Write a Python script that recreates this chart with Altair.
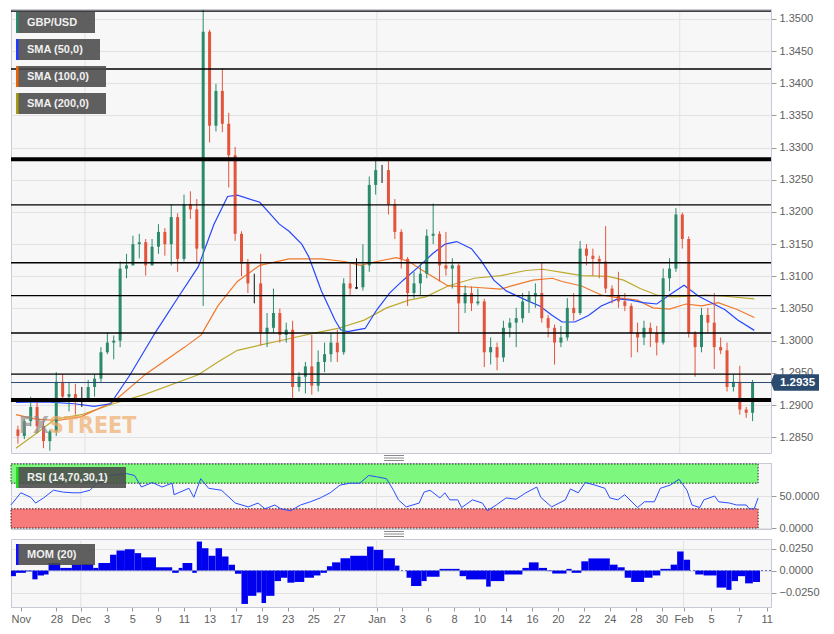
import altair as alt
import pandas as pd

# ---------------- data ----------------
first_open = 1.2862
high = [1.2868, 1.2878, 1.2913, 1.2905, 1.2875, 1.2862, 1.2951, 1.2948, 1.2936, 1.2933,
        1.2928, 1.2939, 1.2948, 1.2990, 1.3012, 1.3008, 1.3123, 1.3135, 1.3163, 1.3166,
        1.3158, 1.3158, 1.3181, 1.3175, 1.3212, 1.3198, 1.3227, 1.3232, 1.3220, 1.3514,
        1.3483, 1.3399, 1.3423, 1.3354, 1.3301, 1.3170, 1.3127, 1.3104, 1.3135, 1.3043,
        1.3081, 1.3050, 1.3028, 1.3031, 1.2951, 1.2967, 1.3009, 1.2985, 1.2997, 1.3012,
        1.3017, 1.3097, 1.3120, 1.3128, 1.3150, 1.3255, 1.3285, 1.3273, 1.3281, 1.3220,
        1.3173, 1.3130, 1.3107, 1.3120, 1.3173, 1.3213, 1.3170, 1.3169, 1.3128, 1.3120,
        1.3086, 1.3084, 1.3081, 1.3065, 1.3005, 1.2997, 1.3031, 1.3035, 1.3051, 1.3074,
        1.3077, 1.3089, 1.3121, 1.3040, 1.3025, 1.3023, 1.3066, 1.3074, 1.3155, 1.3150,
        1.3143, 1.3132, 1.3178, 1.3086, 1.3107, 1.3074, 1.3058, 1.3028, 1.3031, 1.3028,
        1.3023, 1.3112, 1.3128, 1.3206, 1.3199, 1.3162, 1.3015, 1.3051, 1.3051, 1.3074,
        1.3005, 1.2997, 1.2948, 1.2961, 1.2897, 1.2939]
low = [1.2840, 1.2847, 1.2867, 1.2856, 1.2833, 1.2829, 1.2852, 1.2905, 1.2890, 1.2885,
       1.2897, 1.2905, 1.2913, 1.2936, 1.2979, 1.2971, 1.2990, 1.3097, 1.3117, 1.3128,
       1.3101, 1.3117, 1.3135, 1.3132, 1.3117, 1.3107, 1.3123, 1.3189, 1.3120, 1.3054,
       1.3308, 1.3325, 1.3324, 1.3238, 1.3155, 1.3100, 1.3074, 1.3058, 1.2993, 1.2990,
       1.3012, 1.2997, 1.2997, 1.2905, 1.2921, 1.2918, 1.2916, 1.2921, 1.2951, 1.2967,
       1.2967, 1.2978, 1.3071, 1.3080, 1.3078, 1.3107, 1.3227, 1.3245, 1.3196, 1.3158,
       1.3112, 1.3054, 1.3066, 1.3071, 1.3097, 1.3150, 1.3092, 1.3101, 1.3081, 1.3012,
       1.3043, 1.3046, 1.3055, 1.2959, 1.2963, 1.2954, 1.2967, 1.3005, 1.2990, 1.3028,
       1.3043, 1.3051, 1.3028, 1.3005, 1.2963, 1.2990, 1.3000, 1.3031, 1.3040, 1.3117,
       1.3101, 1.3097, 1.3074, 1.3058, 1.3051, 1.3046, 1.2974, 1.2982, 1.2993, 1.2990,
       1.2977, 1.2994, 1.3077, 1.3107, 1.3143, 1.3005, 1.2944, 1.2982, 1.3012, 1.2956,
       1.2979, 1.2921, 1.2921, 1.2885, 1.2880, 1.2875]
close = [1.2852, 1.2875, 1.2897, 1.2867, 1.2844, 1.2859, 1.2936, 1.2913, 1.2917, 1.2908,
         1.2910, 1.2928, 1.2941, 1.2982, 1.2997, 1.3000, 1.3112, 1.3117, 1.3150, 1.3153,
         1.3117, 1.3146, 1.3169, 1.3150, 1.3192, 1.3127, 1.3212, 1.3204, 1.3143, 1.3480,
         1.3334, 1.3388, 1.3337, 1.3288, 1.3166, 1.3120, 1.3089, 1.3089, 1.3012, 1.3020,
         1.3043, 1.3009, 1.3017, 1.2928, 1.2944, 1.2960, 1.2930, 1.2967, 1.2979, 1.2997,
         1.2982, 1.3089, 1.3081, 1.3083, 1.3117, 1.3242, 1.3265, 1.3265, 1.3212, 1.3169,
         1.3127, 1.3074, 1.3089, 1.3104, 1.3163, 1.3166, 1.3117, 1.3112, 1.3117, 1.3058,
         1.3074, 1.3058, 1.3061, 1.2982, 1.2990, 1.2974, 1.3020, 1.3028, 1.3035, 1.3061,
         1.3069, 1.3074, 1.3035, 1.3020, 1.2997, 1.3005, 1.3051, 1.3043, 1.3143, 1.3132,
         1.3127, 1.3123, 1.3081, 1.3071, 1.3061, 1.3054, 1.3012, 1.3005, 1.3020, 1.3012,
         1.2997, 1.3097, 1.3112, 1.3196, 1.3158, 1.3012, 1.2990, 1.3040, 1.3028, 1.2990,
         1.2985, 1.2928, 1.2936, 1.2893, 1.2888, 1.2935]

sma50_t = [-0.31, 4.27, 8.85, 11.91, 14.5, 17.56, 21.53, 25.19, 28.24, 30.69, 32.82, 34.35,
           37.86, 40.92, 42.44, 44.43, 45.5, 47.48, 49.62, 50.53, 51.6, 54.35, 56.18, 58.17,
           60.31, 62.75, 64.89, 66.87, 68.7, 70.99, 72.52, 74.5, 76.49, 79.54, 81.68, 83.66,
           85.19, 87.18, 89.31, 91.3, 93.89, 95.88, 97.86, 100.0, 101.98, 104.27, 106.56,
           108.55, 110.69, 112.67, 115.27]
sma50_v = [1.2904, 1.2905, 1.2902, 1.2898, 1.2902, 1.2947, 1.3013, 1.3069, 1.3115, 1.3181,
           1.3224, 1.3226, 1.3215, 1.3181, 1.3170, 1.3150, 1.3131, 1.3078, 1.3032, 1.3017,
           1.3014, 1.3019, 1.3048, 1.3074, 1.3094, 1.3115, 1.3135, 1.3150, 1.3154, 1.3143,
           1.3124, 1.3094, 1.3077, 1.3063, 1.3054, 1.3039, 1.3029, 1.3029, 1.3039, 1.3054,
           1.3065, 1.3063, 1.3059, 1.3057, 1.3071, 1.3086, 1.3069, 1.3059, 1.3048, 1.3032,
           1.3016]
sma100_t = [-0.31, 2.75, 6.26, 9.92, 14.96, 20.0, 26.11, 28.7, 31.3, 34.35, 37.86, 42.44,
            47.48, 51.15, 53.59, 56.18, 59.24, 61.22, 63.36, 65.34, 67.33, 71.45, 75.57,
            77.56, 80.61, 83.66, 85.19, 88.24, 91.3, 94.35, 96.95, 99.39, 101.98, 104.58,
            107.02, 109.62, 112.67, 115.27]
sma100_v = [1.2885, 1.2878, 1.2876, 1.2882, 1.2905, 1.2948, 1.2990, 1.3009, 1.3054, 1.3092,
            1.3117, 1.3127, 1.3127, 1.3123, 1.3117, 1.3123, 1.3129, 1.3123, 1.3109, 1.3097,
            1.3085, 1.3083, 1.3080, 1.3086, 1.3094, 1.3097, 1.3092, 1.3085, 1.3071, 1.3066,
            1.3063, 1.3051, 1.3049, 1.3057, 1.3054, 1.3059, 1.3048, 1.3036]
sma200_t = [-0.31, 2.75, 5.8, 9.92, 14.96, 20.0, 28.24, 31.3, 34.35, 37.86, 42.44, 45.95,
            50.08, 54.2, 57.71, 61.22, 63.82, 67.33, 71.45, 75.57, 79.54, 82.14, 85.19,
            88.24, 92.37, 94.81, 97.4, 100.0, 102.44, 105.04, 107.63, 110.69, 115.27]
sma200_v = [1.2833, 1.2855, 1.2878, 1.2885, 1.2902, 1.2917, 1.2947, 1.2967, 1.2985, 1.2993,
            1.3003, 1.3011, 1.3019, 1.3032, 1.3051, 1.3063, 1.3068, 1.3085, 1.3097, 1.3101,
            1.3109, 1.3111, 1.3106, 1.3101, 1.3100, 1.3094, 1.3081, 1.3071, 1.3068, 1.3069,
            1.3071, 1.3069, 1.3065]

levels_thin = [1.3512, 1.3422, 1.3211, 1.3121, 1.3070, 1.3012, 1.2948]
levels_thick = [1.3282, 1.2908]

rsi_t = [-0.31, 1.22, 2.75, 3.51, 4.73, 6.26, 7.79, 9.31, 10.38, 11.91,
         12.98, 14.96, 17.56, 18.78, 19.85, 21.53, 23.05, 24.58, 24.89, 27.18,
         27.94, 29.01, 30.23, 32.21, 34.35, 36.34, 37.86, 38.93, 40.46, 41.37,
         42.9, 44.43, 45.95, 47.48, 49.01, 50.53, 52.06, 53.59, 54.96, 56.18,
         57.71, 58.78, 59.54, 60.76, 62.75, 63.51, 64.43, 65.95, 66.72, 67.48,
         68.7, 69.31, 70.99, 72.52, 73.28, 74.66, 76.18, 77.71, 79.24, 80.92,
         81.53, 83.21, 85.34, 86.11, 87.33, 88.4, 89.92, 91.45, 92.21, 93.44,
         94.5, 96.49, 97.56, 99.08, 100.0, 101.53, 102.9, 104.12, 104.89, 106.11,
         106.72, 108.4, 109.01, 110.69, 111.76, 113.28, 113.74, 114.5, 115.11]
rsi_v = [36, 55, 48, 39, 47, 59, 56, 55, 55, 59,
         70, 82, 85, 82, 64, 71, 64, 70, 52, 62,
         48, 77, 62, 59, 39, 33, 39, 30, 36, 30,
         27, 36, 41, 47, 55, 67, 70, 70, 82, 80,
         77, 59, 44, 33, 39, 56, 59, 47, 55, 44,
         44, 32, 44, 39, 27, 36, 47, 45, 55, 64,
         48, 33, 44, 61, 55, 71, 67, 62, 47, 44,
         52, 32, 41, 41, 62, 67, 76, 59, 36, 32,
         44, 50, 41, 39, 36, 36, 30, 30, 47]

mom_t = [-0.3, 0.46, 2.0, 3.0, 3.8, 4.8, 5.5, 7.3, 9.1, 10.6, 12.4, 13.2, 15.0, 16.0, 17.3,
         18.8, 19.8, 22.1, 24.6, 25.6, 26.2, 27.7, 28.4, 29.2, 30.2, 31.3, 32.3, 33.3, 34.3,
         35.3, 36.3, 37.6, 38.4, 39.1, 40.4, 41.4, 42.4, 43.5, 45.0, 46.5, 47.5, 48.5, 49.3,
         50.6, 52.1, 54.7, 55.7, 57.2, 59.0, 59.7, 60.8, 61.5, 63.1, 63.9, 65.9, 69.0, 70.0,
         73.1, 73.8, 75.9, 78.7, 79.7, 81.2, 82.5, 83.3, 85.5, 86.3, 87.8, 88.9, 92.2, 93.4,
         94.5, 95.5, 97.5, 98.8, 100.0, 101.6, 102.6, 103.6, 104.6, 105.4, 106.7, 108.7,
         110.2, 111.0, 112.0, 113.1, 114.3, 115.4]
mom_v = [-0.0064, -0.0026, -0.001, -0.010, -0.0056, -0.0045, 0.0086, 0.003, 0.0067, 0.0075,
         0.003, 0.0086, 0.018, 0.0228, 0.0243, 0.0198, 0.015, 0.0037, -0.0026, 0.003, 0.0086,
         -0.0026, 0.033, 0.0254, 0.0168, 0.0254, 0.016, 0.0067, -0.0037, -0.038, -0.0288,
         -0.025, -0.037, -0.0288, -0.012, -0.0082, -0.0138, -0.013, -0.0082, -0.0056, -0.0026,
         0.0049, 0.0093, 0.014, 0.0168, 0.0273, 0.0235, 0.014, 0.0056, 0.0, -0.0082, -0.0176,
         -0.012, -0.007, 0.0019, -0.0064, -0.0101, -0.0183, -0.012, -0.0045, 0.003, 0.0093,
         0.003, -0.0007, -0.0034, 0.0019, -0.0026, 0.0105, 0.0138, 0.0067, 0.0037, -0.0082,
         -0.013, -0.0082, -0.0056, 0.0019, 0.0067, 0.0217, 0.0123, 0.0, -0.0045, -0.0056,
         -0.0194, -0.022, -0.012, -0.0064, -0.0146, -0.013]

x_label_text = ["Nov", "28", "Dec", "3", "5", "9", "11", "13", "17", "19", "23", "25", "27",
                "Jan", "3", "6", "8", "10", "14", "16", "20", "22", "24", "28", "30", "Feb",
                "5", "7", "11"]
x_label_pos = [1.22, 6.72, 10.49, 14.46, 18.43, 22.4, 26.41, 30.38, 34.46, 38.47, 42.44,
               46.41, 50.38, 56.18, 60.15, 64.17, 68.14, 72.06, 76.14, 80.2, 84.17, 88.24,
               92.21, 96.23, 100.2, 103.6, 107.83, 112.17, 116.44]
month_pos = [10.49, 56.18, 103.6]
price_ticks = [1.2850, 1.2900, 1.2950, 1.3000, 1.3050, 1.3100, 1.3150, 1.3200, 1.3250,
               1.3300, 1.3350, 1.3400, 1.3450, 1.3500]

# ---------------- layout / style ----------------
W = 760
H_MAIN, H_RSI, H_MOM = 444, 66, 68
FONT = "Liberation Sans"
UP, DOWN, FLAT = "#2a8a6b", "#e2553c", "#111111"

xscale = alt.Scale(domain=[-0.3, 117.1], nice=False, zero=False)
yscale = alt.Scale(domain=[1.28255, 1.35153], nice=False, zero=False)
yaxis = alt.Axis(orient="right", values=price_ticks, format=".4f", tickSize=5,
                 labelPadding=3, grid=True, title=None)

def X(field):
    return alt.X(field, type="quantitative", scale=xscale, axis=None, title=None)

def Y(field):
    return alt.Y(field, type="quantitative", scale=yscale, axis=yaxis, title=None)

one = pd.DataFrame({"k": [0]})

# tables built from the lists
opens = [first_open] + close[:-1]
candles = pd.DataFrame({"t": list(range(len(close))), "open": opens,
                        "high": high, "low": low, "close": close})
def _dir(o, c):
    if abs(c - o) < 0.00025:
        return "flat"
    return "up" if c > o else "down"
candles["dir"] = [_dir(o, c) for o, c in zip(opens, close)]
months = pd.DataFrame({"t": month_pos})

# ---------------- main price panel ----------------
mgrid = alt.Chart(months).mark_rule(color="#e2e2e2", strokeWidth=1).encode(x=X("t"))

sma_layers = []
for tt, vv, col in [(sma200_t, sma200_v, "#bcaa2e"), (sma100_t, sma100_v, "#f0782a"),
                    (sma50_t, sma50_v, "#2747ff")]:
    sma_layers.append(alt.Chart(pd.DataFrame({"t": tt, "v": vv})).mark_line(
        strokeWidth=1.2, color=col).encode(x=X("t"), y=Y("v")))

candle_layers = []
for d, col in [("up", UP), ("down", DOWN), ("flat", FLAT)]:
    base = alt.Chart(candles).transform_filter(alt.datum.dir == d)
    candle_layers.append(base.mark_rule(strokeWidth=1, color=col).encode(
        x=X("t"), y=Y("low"), y2="high"))
    candle_layers.append(base.mark_bar(size=3, color=col).encode(
        x=X("t"), y=Y("open"), y2="close"))

thin = alt.Chart(pd.DataFrame({"p": levels_thin})).mark_rule(
    color="#000000", strokeWidth=1.4).encode(y=Y("p"))
thick = alt.Chart(pd.DataFrame({"p": levels_thick})).mark_rule(
    color="#000000", strokeWidth=4).encode(y=Y("p"))

last_df = pd.DataFrame({"c": [close[-1]], "label": [f"{close[-1]:.4f}"]})
cur_line = alt.Chart(last_df).mark_rule(color="#2b4a6f", strokeWidth=1).encode(y=Y("c"))
TAG = "M-1.14,0L-1,-0.37L1,-0.37L1,0.37L-1,0.37Z"
tag = alt.Chart(last_df).mark_point(shape=TAG, filled=True, size=2025, opacity=1,
                                    color="#2b4a6f").encode(x=alt.value(W + 25.5), y=Y("c"))
tag_txt = alt.Chart(last_df).mark_text(color="white", fontWeight="bold", fontSize=11.5,
                                       font=FONT, baseline="middle").encode(
    x=alt.value(W + 26.5), y=Y("c"), text="label:N")

def label_box(text, stripe, x0, x1, y0, y1):
    d = pd.DataFrame({"label": [text]})
    box = alt.Chart(d).mark_rect(color="#4a4a4a", opacity=0.88).encode(
        x=alt.value(x0), x2=alt.value(x1), y=alt.value(y0), y2=alt.value(y1))
    strip = alt.Chart(d).mark_rect(color=stripe).encode(
        x=alt.value(x0), x2=alt.value(x0 + 2.5), y=alt.value(y0), y2=alt.value(y1))
    txt = alt.Chart(d).mark_text(align="left", baseline="middle", color="#f0f0f0",
                                 fontWeight="bold", fontSize=11, font=FONT).encode(
        x=alt.value(x0 + 11), y=alt.value((y0 + y1) / 2 + 0.5), text="label:N")
    return [box, strip, txt]

legend_layers = (label_box("GBP/USD", "#2a8a6b", 5, 84, 3, 24)
                 + label_box("SMA (50,0)", "#1f3cff", 5, 89, 30, 51)
                 + label_box("SMA (100,0)", "#e8650a", 5, 95, 57, 78)
                 + label_box("SMA (200,0)", "#a89a10", 5, 95, 84, 105))

WMFONT = "Liberation Sans Narrow, DejaVu Sans Condensed, sans-serif"
wm = pd.DataFrame({"a": ["FX"], "b": ["STREET"]})
wm_fx = alt.Chart(wm).mark_text(align="right", baseline="middle", fontSize=23,
                                fontWeight="bold", font=WMFONT,
                                color="#8a8a8a", opacity=0.65).encode(
    x=alt.value(38), y=alt.value(417), text="a:N")
wm_st = alt.Chart(wm).mark_text(align="left", baseline="middle", fontSize=23,
                                fontWeight="bold", font=WMFONT,
                                color="#f0a860", opacity=0.65).encode(
    x=alt.value(38), y=alt.value(417), text="b:N")

main = alt.layer(mgrid, *sma_layers, *candle_layers, thin, thick, cur_line,
                 wm_fx, wm_st, *legend_layers, tag, tag_txt).properties(
    width=W, height=H_MAIN)

# ---------------- RSI panel ----------------
rscale = alt.Scale(domain=[-1.5, 101.5], nice=False, zero=False)
raxis = alt.Axis(orient="right", values=[0, 50], format=".4f", tickSize=5,
                 labelPadding=3, grid=True, title=None)
rgrid = alt.Chart(months).mark_rule(color="#e2e2e2").encode(x=X("t"))
zone_layers = []
for lo, hi, col in [(70, 100, "#7df77d"), (0, 30, "#f87b7b")]:
    zdf = pd.DataFrame({"lo": [lo], "hi": [hi], "t0": [xscale.domain[0]], "t1": [rsi_t[-1]]})
    zone_layers.append(alt.Chart(zdf).mark_rect(
        color=col, stroke="#000000", strokeWidth=0.8, strokeDash=[1.5, 1.5]).encode(
        x=X("t0"), x2="t1",
        y=alt.Y("lo:Q", scale=rscale, axis=raxis, title=None), y2="hi"))
rsi_line = alt.Chart(pd.DataFrame({"t": rsi_t, "v": rsi_v})).mark_line(
    color="#2a4dff", strokeWidth=1).encode(
    x=X("t"), y=alt.Y("v:Q", scale=rscale, axis=raxis, title=None))
grip1 = [alt.Chart(one).mark_rule(color="#8a8a8a", strokeWidth=1).encode(
    x=alt.value(373), x2=alt.value(393), y=alt.value(yy)) for yy in (-7.5, -5, -2.5)]
rsi = alt.layer(rgrid, *zone_layers, rsi_line,
                *label_box("RSI (14,70,30,1)", "#22dd22", 5, 115, 4, 25),
                *grip1).properties(width=W, height=H_RSI)

# ---------------- MOM panel ----------------
mscale = alt.Scale(domain=[-0.0415, 0.0359], nice=False, zero=False)
maxis = alt.Axis(orient="right", values=[-0.025, 0, 0.025], format=".4f", tickSize=5,
                 labelPadding=3, grid=True, title=None)
pos_js = "[" + ",".join(str(p) for p in x_label_pos) + "]"
txt_js = "[" + ",".join("'" + s + "'" for s in x_label_text) + "]"
xaxis = alt.Axis(orient="bottom", values=x_label_pos, grid=False, tickSize=4,
                 labelPadding=2, labelOverlap=False, labelFlush=False,
                 labelExpr=txt_js + "[indexof(" + pos_js + ", datum.value)]", title=None)
mom_df = pd.DataFrame({"t0": mom_t[:-1], "t1": mom_t[1:], "v": mom_v})
mgrid2 = alt.Chart(months).mark_rule(color="#e2e2e2").encode(
    x=alt.X("t:Q", scale=xscale, axis=xaxis, title=None))
mom_bars = alt.Chart(mom_df).mark_rect(color="#0000ee").encode(
    x=alt.X("t0:Q", scale=xscale, axis=xaxis, title=None), x2="t1",
    y=alt.Y("v:Q", scale=mscale, axis=maxis, title=None), y2=alt.datum(0))
zero_line = alt.Chart(pd.DataFrame({"z": [0.0]})).mark_rule(
    color="#5a6fc0", strokeDash=[2, 2], strokeWidth=1).encode(
    y=alt.Y("z:Q", scale=mscale, axis=maxis, title=None))
grip2 = [alt.Chart(one).mark_rule(color="#8a8a8a", strokeWidth=1).encode(
    x=alt.value(373), x2=alt.value(393), y=alt.value(yy)) for yy in (-7.5, -5, -2.5)]
mom = alt.layer(mgrid2, mom_bars, zero_line,
                *label_box("MOM (20)", "#1010ff", 5, 84, 5, 26),
                *grip2).properties(width=W, height=H_MOM)

chart = alt.vconcat(main, rsi, mom, spacing=10, bounds="flush").properties(
    padding={"left": 0, "top": 0, "right": 0, "bottom": 0},
    background="white",
).configure(font=FONT).configure_view(
    stroke="#c5cad6", fill="#f7f7f7", strokeWidth=1
).configure_axis(
    labelFont=FONT, labelFontSize=11, labelColor="#606060", tickColor="#9a9a9a",
    domainColor="#c5cad6", gridColor="#e2e2e2", gridWidth=1
)

chart.save("out.html", embed_options={"renderer": "svg", "actions": False})
